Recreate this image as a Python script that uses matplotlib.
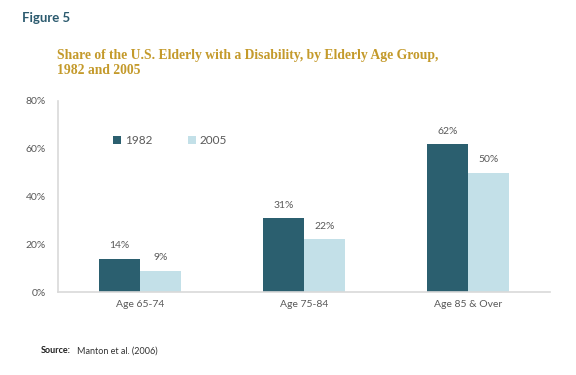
import numpy as np
import matplotlib
matplotlib.use("Agg")
import matplotlib.pyplot as plt
import matplotlib.ticker as ticker

# Data
groups = ['Age 65-74', 'Age 75-84', 'Age 85 & Over']
years = ['1982', '2005']
share_1982 = [14, 31, 62]
share_2005 = [9, 22, 50]

dark = '#2b5f6f'
light = '#c3e0e8'
gold = '#c49a2b'
grey = '#595959'

plt.rcParams['font.family'] = ['Lato', 'DejaVu Sans']

fig = plt.figure(figsize=(5.76, 3.75), dpi=100)
ax = fig.add_axes([0.1007, 0.2213, 0.8543, 0.5094])

x = np.arange(len(groups))
w = 0.25
b1 = ax.bar(x - w / 2, share_1982, w, color=dark, label=years[0])
b2 = ax.bar(x + w / 2, share_2005, w, color=light, label=years[1])

for bars, vals in ((b1, share_1982), (b2, share_2005)):
    for rect, v in zip(bars, vals):
        ax.text(rect.get_x() + rect.get_width() / 2, v + 3.5, f'{v}%',
                ha='center', va='bottom', fontsize=7.5, color=grey)

ax.set_xlim(-0.5, 2.5)
ax.set_ylim(0, 80)
ax.set_yticks([0, 20, 40, 60, 80])
ax.yaxis.set_major_formatter(ticker.FuncFormatter(lambda v, _: f'{int(v)}%'))
ax.set_xticks(x)
ax.set_xticklabels(groups)
ax.tick_params(axis='both', length=0, labelsize=7.5, labelcolor=grey)
ax.tick_params(axis='y', pad=8.5)
ax.tick_params(axis='x', pad=6)

for s in ('top', 'right'):
    ax.spines[s].set_visible(False)
for s in ('left', 'bottom'):
    ax.spines[s].set_color('#d9d9d9')
    ax.spines[s].set_linewidth(1.2)

leg = ax.legend(loc='upper left', bbox_to_anchor=(0.09, 0.875), ncol=2, frameon=False,
                fontsize=8.5, handlelength=0.7, handleheight=0.7, handletextpad=0.3,
                columnspacing=3.0, labelcolor=grey)

fig.text(0.038, 0.94, 'Figure 5', fontsize=9.5, fontweight='bold', color='#2b5a6e')
fig.text(0.099, 0.868, 'Share of the U.S. Elderly with a Disability, by Elderly Age Group,\n1982 and 2005',
         fontsize=9.8, fontweight='bold', color=gold, family='Liberation Serif',
         va='top', linespacing=1.2)
fig.text(0.071, 0.058, 'Source:', fontsize=6.5, fontweight='bold', color='#222222')
fig.text(0.133, 0.058, 'Manton et al. (2006)', fontsize=6.5, color='#333333')

fig.savefig('out.png', dpi=100)
